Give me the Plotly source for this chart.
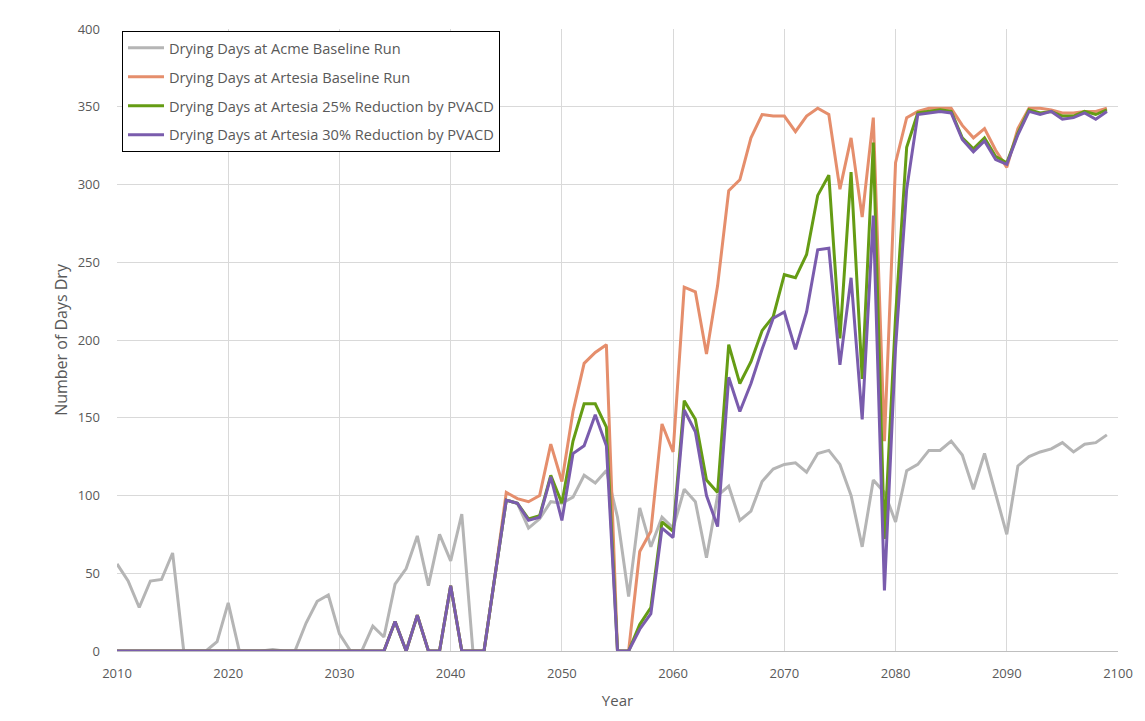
import plotly.graph_objects as go

years = list(range(2010, 2100))

acme_baseline = [56, 45, 28, 45, 46, 63, 0, 0, 0, 6,
                 31, 0, 0, 0, 1, 0, 0, 18, 32, 36,
                 11, 0, 0, 16, 9, 43, 53, 74, 42, 75,
                 58, 88, 0, 0, 49, 97, 95, 79, 85, 96,
                 95, 99, 113, 108, 116, 86, 35, 92, 67, 86,
                 79, 104, 96, 60, 100, 106, 84, 90, 109, 117,
                 120, 121, 115, 127, 129, 120, 100, 67, 110, 102,
                 83, 116, 120, 129, 129, 135, 126, 104, 127, 101,
                 75, 119, 125, 128, 130, 134, 128, 133, 134, 139]

early_artesia = [0, 0, 0, 0, 0, 0, 0, 0, 0, 0,
                 0, 0, 0, 0, 0, 0, 0, 0, 0, 0,
                 0, 0, 0, 0, 0, 19, 0, 23, 0, 0,
                 42, 0, 0, 0]

artesia_baseline = early_artesia + [
    49, 102, 98, 96, 100, 133,
    109, 154, 185, 192, 197, 0, 0, 64, 77, 146,
    128, 234, 231, 191, 235, 296, 303, 330, 345, 344,
    344, 334, 344, 349, 345, 297, 330, 279, 343, 135,
    314, 343, 347, 349, 349, 349, 338, 330, 336, 322,
    311, 336, 349, 349, 348, 346, 346, 347, 347, 349]

artesia_25 = early_artesia + [
    49, 97, 95, 85, 87, 113,
    95, 135, 159, 159, 144, 0, 0, 17, 28, 83,
    77, 161, 149, 110, 102, 197, 172, 186, 206, 215,
    242, 240, 255, 293, 306, 201, 308, 175, 327, 72,
    215, 324, 346, 347, 348, 347, 330, 323, 330, 318,
    314, 333, 348, 346, 347, 344, 344, 347, 345, 348]

artesia_30 = early_artesia + [
    49, 97, 95, 84, 86, 112,
    84, 127, 132, 152, 132, 0, 0, 14, 24, 79,
    73, 155, 141, 100, 80, 176, 154, 172, 194, 214,
    218, 194, 218, 258, 259, 184, 240, 149, 280, 39,
    195, 297, 345, 346, 347, 346, 329, 321, 328, 316,
    313, 332, 347, 345, 347, 342, 343, 346, 342, 347]

series_names = [
    "Drying Days at Acme Baseline Run",
    "Drying Days at Artesia Baseline Run",
    "Drying Days at Artesia 25% Reduction by PVACD",
    "Drying Days at Artesia 30% Reduction by PVACD",
]
series_values = [acme_baseline, artesia_baseline, artesia_25, artesia_30]
colors = ["#b5b5b5", "#e58e6c", "#659c14", "#7a5cad"]

x_ticks = list(range(2010, 2101, 10))
y_ticks = list(range(0, 401, 50))

FONT = "Open Sans, Noto Sans, sans-serif"
TXT = "#595959"

fig = go.Figure()
for i, (name, vals, col) in enumerate(zip(series_names, series_values, colors)):
    fig.add_trace(go.Scatter(
        x=years, y=vals, mode="lines", name=name,
        line=dict(color=col, width=3), legendgroup=f"g{i}",
    ))

fig.update_layout(
    width=1137, height=713,
    margin=dict(l=109, r=26, t=17, b=70),
    paper_bgcolor="white", plot_bgcolor="white",
    font=dict(family=FONT, size=13, color=TXT),
    showlegend=True,
    legend=dict(
        x=0.005, y=0.997, xanchor="left", yanchor="top",
        bgcolor="white", bordercolor="black", borderwidth=1,
        font=dict(family=FONT, size=14.6, color=TXT),
        traceorder="grouped", tracegroupgap=7,
        itemwidth=36,
    ),
    xaxis=dict(
        range=[2010, 2100], tickvals=x_ticks, ticktext=[str(t) for t in x_ticks],
        showgrid=True, gridcolor="#d9d9d9", gridwidth=1,
        zeroline=False, showline=True, linecolor="#bfbfbf", linewidth=1,
        mirror=False, ticks="", tickfont=dict(size=13, color=TXT),
        ticklabelstandoff=10,
        title=dict(text="Year", font=dict(size=15, color=TXT), standoff=14),
    ),
    yaxis=dict(
        range=[0, 400], tickvals=y_ticks,
        showgrid=True, gridcolor="#d9d9d9", gridwidth=1,
        zeroline=False, showline=False, ticks="",
        tickfont=dict(size=13, color=TXT), ticklabelstandoff=16,
        title=dict(text="Number of Days Dry", font=dict(size=16, color=TXT), standoff=6),
    ),
)

fig.write_html("out.html")
